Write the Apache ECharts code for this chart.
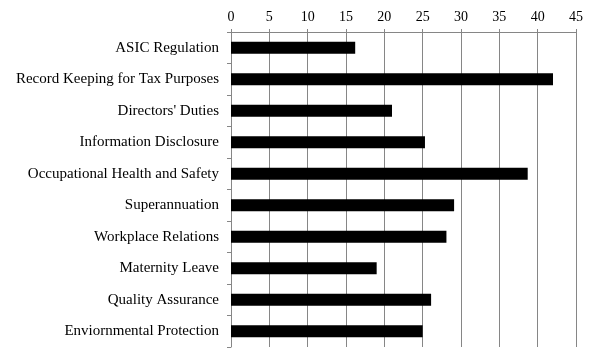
<!DOCTYPE html>
<html><head><meta charset="utf-8">
<script src="https://cdn.jsdelivr.net/npm/echarts@6/dist/echarts.min.js"></script>
<style>html,body{margin:0;padding:0;background:#fff}#c{width:598px;height:355px}</style>
</head><body><div id="c"></div>
<script>
const categories = ["ASIC Regulation","Record Keeping for Tax Purposes","Directors' Duties","Information Disclosure","Occupational Health and Safety","Superannuation","Workplace Relations","Maternity Leave","Quality Assurance","Enviornmental Protection"];
const values = [16.2, 42.0, 21.0, 25.3, 38.7, 29.1, 28.1, 19.0, 26.1, 25.0];
const xTicks = {min: 0, max: 45, interval: 5};
const font = "'Liberation Serif','Times New Roman',serif";
const chart = echarts.init(document.getElementById('c'), null, {renderer: 'canvas'});
chart.setOption({
  animation: false,
  grid: {left: 231, top: 32, right: 22, bottom: 8, containLabel: false},
  xAxis: {
    type: 'value', position: 'top', min: xTicks.min, max: xTicks.max, interval: xTicks.interval,
    axisLine: {show: true, lineStyle: {color: '#868686', width: 1}},
    axisTick: {show: true, length: 3, lineStyle: {color: '#868686'}},
    splitLine: {show: true, lineStyle: {color: '#868686', width: 1}},
    axisLabel: {color: '#000', fontFamily: font, fontSize: 14, margin: 8}
  },
  yAxis: {
    type: 'category', data: categories, inverse: true,
    axisLine: {show: true, lineStyle: {color: '#868686', width: 1}},
    axisTick: {show: true, length: 4, lineStyle: {color: '#868686'}},
    axisLabel: {color: '#000', fontFamily: font, fontSize: 15, margin: 12}
  },
  series: [{
    type: 'bar', data: values, barWidth: '38%',
    itemStyle: {color: '#000'}
  }]
});
</script></body></html>
